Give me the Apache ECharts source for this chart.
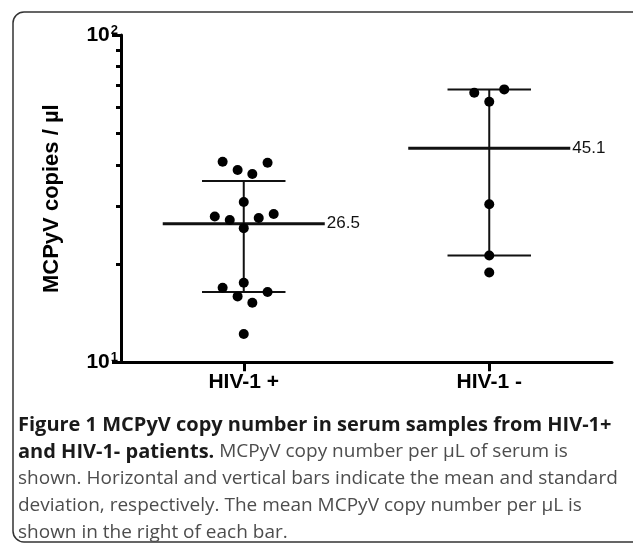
<!DOCTYPE html>
<html>
<head>
<meta charset="utf-8">
<script src="https://cdn.jsdelivr.net/npm/echarts@6/dist/echarts.min.js"></script>
<style>html,body{margin:0;padding:0;background:#fff;}#c{width:633px;height:545px;}</style>
</head>
<body>
<div id="c"></div>
<script>
const groups = ['HIV-1 +', 'HIV-1 -'];
const hivPosValues = [41.0, 38.7, 37.6, 40.7, 30.9, 27.9, 27.2, 27.6, 28.4, 25.7, 17.5, 16.9, 16.4, 15.9, 15.2, 12.2];
const hivPosJitter = [-0.086, -0.025, 0.035, 0.097, 0, -0.118, -0.057, 0.061, 0.122, 0, 0, -0.086, 0.097, -0.025, 0.035, 0];
const hivNegValues = [66.6, 68.2, 62.5, 30.4, 21.2, 18.8];
const hivNegJitter = [-0.061, 0.061, 0, 0, 0, 0];
const means = [26.5, 45.1];
const sdLow = [16.4, 21.2];
const sdHigh = [35.8, 68.2];
const yMajorTicks = [10, 100];
const yMinorTicks = [20, 30, 40, 50, 60, 70, 80, 90];
const captionLines = [
  [['b', 'Figure 1 MCPyV copy number in serum samples from HIV-1+']],
  [['b', 'and HIV-1- patients.'], ['r', ' MCPyV copy number per µL of serum is']],
  [['r', 'shown. Horizontal and vertical bars indicate the mean and standard']],
  [['r', 'deviation, respectively. The mean MCPyV copy number per µL is']],
  [['r', 'shown in the right of each bar.']]
];

const chart = echarts.init(document.getElementById('c'));
const FONT = 'Liberation Sans';
const meanHalf = 0.33, capHalf = 0.17;

const series = [];
const lineBase = {type: 'line', symbol: 'none', silent: true, animation: false, z: 2};
[0, 1].forEach(i => {
  const c = i + 1;
  series.push(Object.assign({}, lineBase, {
    data: [[c, sdLow[i]], [c, sdHigh[i]]],
    lineStyle: {color: '#111', width: 2}
  }));
  series.push(Object.assign({}, lineBase, {
    data: [[c - capHalf, sdHigh[i]], [c + capHalf, sdHigh[i]]],
    lineStyle: {color: '#111', width: 2}
  }));
  series.push(Object.assign({}, lineBase, {
    data: [[c - capHalf, sdLow[i]], [c + capHalf, sdLow[i]]],
    lineStyle: {color: '#111', width: 2}
  }));
  series.push(Object.assign({}, lineBase, {
    data: [[c - meanHalf, means[i]], [c + meanHalf, means[i]]],
    lineStyle: {color: '#111', width: 3},
    endLabel: {show: true, distance: 2, formatter: means[i].toFixed(1), fontFamily: FONT, fontSize: 17, color: '#111'}
  }));
});
series.push({
  type: 'scatter', symbolSize: 10, z: 5, animation: false,
  itemStyle: {color: '#000', opacity: 1},
  data: hivPosValues.map((v, k) => [1 + hivPosJitter[k], v])
});
series.push({
  type: 'scatter', symbolSize: 10, z: 5, animation: false,
  itemStyle: {color: '#000', opacity: 1},
  data: hivNegValues.map((v, k) => [2 + hivNegJitter[k], v])
});

const graphics = [{
  type: 'rect', shape: {x: 13, y: 12, width: 650, height: 530, r: 11},
  style: {fill: 'none', stroke: '#333', lineWidth: 1.5}, silent: true
}];
captionLines.forEach((line, li) => {
  graphics.push({
    type: 'text', left: 18, top: 415 + li * 27, silent: true,
    style: {
      text: line.map(s => '{' + s[0] + '|' + s[1] + '}').join(''),
      rich: {
        b: {fontFamily: 'Open Sans', fontWeight: 'bold', fontSize: 20, fill: '#1a1a1a', color: '#1a1a1a'},
        r: {fontFamily: 'Open Sans', fontSize: 19, fill: '#4d4d4d', color: '#4d4d4d'}
      }
    }
  });
});

chart.setOption({
  animation: false,
  grid: {left: 121, top: 35, width: 491, height: 327.3},
  xAxis: {
    type: 'value', min: 0.5, max: 2.5,
    axisLine: {lineStyle: {color: '#000', width: 3}},
    axisTick: {show: true, customValues: [1, 2], length: 9, lineStyle: {color: '#000', width: 3}},
    axisLabel: {customValues: [1, 2], formatter: v => groups[Math.round(v) - 1], fontFamily: FONT, fontWeight: 'bold', fontSize: 21, color: '#000', margin: 9},
    splitLine: {show: false}
  },
  yAxis: [{
    type: 'log', logBase: 10, min: 10, max: 100,
    name: 'MCPyV copies / µl', nameLocation: 'middle', nameGap: 58,
    nameTextStyle: {fontFamily: FONT, fontWeight: 'bold', fontSize: 22, color: '#000'},
    axisLine: {show: true, lineStyle: {color: '#000', width: 3}},
    axisTick: {show: true, customValues: yMajorTicks, length: 9, lineStyle: {color: '#000', width: 3}},
    axisLabel: {
      customValues: yMajorTicks, margin: 3,
      formatter: v => '{b|10}{s|' + Math.round(Math.log10(v)) + '}',
      rich: {
        b: {fontFamily: FONT, fontWeight: 'bold', fontSize: 21, color: '#000'},
        s: {fontFamily: FONT, fontWeight: 'bold', fontSize: 13, color: '#000', verticalAlign: 'top', padding: [0, 0, 10, 1]}
      }
    },
    splitLine: {show: false}
  }, {
    type: 'log', logBase: 10, min: 10, max: 100, position: 'left',
    axisLine: {show: false},
    axisTick: {show: true, customValues: yMinorTicks, length: 5, lineStyle: {color: '#000', width: 3}},
    axisLabel: {show: false},
    splitLine: {show: false}
  }],
  series: series,
  graphic: graphics
});
</script>
</body>
</html>
